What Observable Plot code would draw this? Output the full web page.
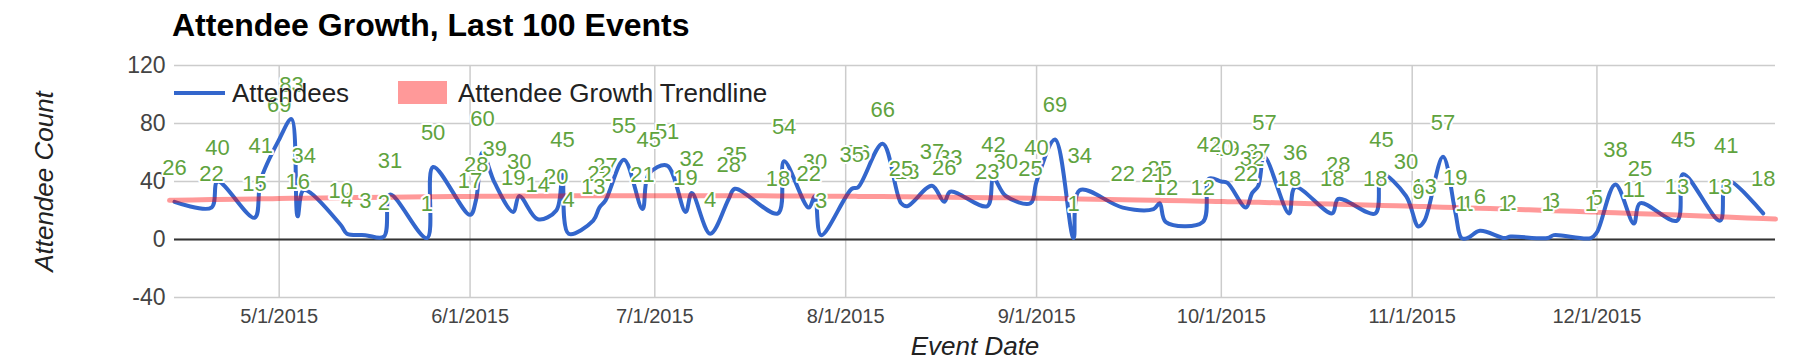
<!DOCTYPE html>
<html>
<head>
<meta charset="utf-8">
<script src="https://cdn.jsdelivr.net/npm/d3@7"></script>
<script src="https://cdn.jsdelivr.net/npm/@observablehq/plot@0.6"></script>
<style>
html, body { margin: 0; padding: 0; background: #fff; }
#wrap { position: relative; width: 1818px; height: 362px; overflow: hidden; font-family: "Liberation Sans", Arial, sans-serif; }
#chart { position: absolute; left: 0; top: 0; }
#title { position: absolute; left: 172px; top: 5px; font-weight: bold; font-size: 32px; line-height: 40px; color: #000; white-space: nowrap; }
.legtext { position: absolute; font-size: 26px; line-height: 28px; color: #222; white-space: nowrap;
  text-shadow: 0 0 2px #fff, 0 0 2px #fff, 0 0 2px #fff; }
.swatch { position: absolute; }
</style>
</head>
<body>
<div id="wrap">
  <div id="chart"></div>
  <div id="title">Attendee Growth, Last 100 Events</div>
  <div class="swatch" style="left:174px; top:91px; width:51px; height:4px; background:#3366cc;"></div>
  <div class="legtext" style="left:232px; top:79px;">Attendees</div>
  <div class="swatch" style="left:398px; top:81px; width:49px; height:23px; background:#ff9999;"></div>
  <div class="legtext" style="left:458px; top:79px;">Attendee Growth Trendline</div>
</div>
<script>
// ---- data ----
const eventDates = [
  "2015-04-14","2015-04-20","2015-04-21","2015-04-27","2015-04-28","2015-05-01","2015-05-03","2015-05-04","2015-05-05","2015-05-11",
  "2015-05-12","2015-05-15","2015-05-18","2015-05-19","2015-05-25","2015-05-26","2015-06-01","2015-06-02","2015-06-03","2015-06-05",
  "2015-06-08","2015-06-09","2015-06-12","2015-06-15","2015-06-16","2015-06-17","2015-06-21","2015-06-22","2015-06-23","2015-06-26",
  "2015-06-29","2015-06-30","2015-07-03","2015-07-06","2015-07-07","2015-07-10","2015-07-13","2015-07-14","2015-07-21","2015-07-22",
  "2015-07-26","2015-07-27","2015-07-28","2015-08-02","2015-08-03","2015-08-07","2015-08-10","2015-08-11","2015-08-15","2015-08-17",
  "2015-08-18","2015-08-24","2015-08-25","2015-08-27","2015-08-31","2015-09-01","2015-09-04","2015-09-07","2015-09-08","2015-09-15",
  "2015-09-20","2015-09-21","2015-09-22","2015-09-28","2015-09-29","2015-10-01","2015-10-02","2015-10-05","2015-10-06","2015-10-07",
  "2015-10-08","2015-10-12","2015-10-13","2015-10-19","2015-10-20","2015-10-26","2015-10-27","2015-10-31","2015-11-02","2015-11-03",
  "2015-11-06","2015-11-08","2015-11-09","2015-11-10","2015-11-12","2015-11-16","2015-11-17","2015-11-23","2015-11-24","2015-11-30",
  "2015-12-01","2015-12-04","2015-12-07","2015-12-08","2015-12-14","2015-12-15","2015-12-21","2015-12-22","2015-12-28"
];
const attendees = [
  26, 22, 40, 15, 41, 69, 83, 16, 34, 10,
  4, 3, 2, 31, 1, 50, 17, 28, 60, 39,
  19, 30, 14, 20, 45, 4, 13, 22, 27, 55,
  21, 45, 51, 19, 32, 4, 28, 35, 18, 54,
  22, 30, 3, 35, 36, 66, 25, 23, 37, 26,
  33, 23, 42, 30, 25, 40, 69, 1, 34, 22,
  21, 25, 12, 12, 42, 40, 39, 22, 32, 37,
  57, 18, 36, 18, 28, 18, 45, 30, 9, 13,
  57, 19, 1, 1, 6, 1, 2, 1, 3, 1,
  5, 38, 11, 25, 13, 45, 13, 41, 18
];
const xDomain = ["2015-04-14", "2015-12-30"];
const monthTicks = ["2015-05-01","2015-06-01","2015-07-01","2015-08-01","2015-09-01","2015-10-01","2015-11-01","2015-12-01"];
const yTicks = [-40, 0, 40, 80, 120];
const yDomain = [-40, 120];

// ---- build ----
const parse = d3.utcParse("%Y-%m-%d");
const data = eventDates.map((d, i) => ({date: parse(d), value: attendees[i]}));
const x0 = parse(xDomain[0]), x1 = parse(xDomain[1]);
const months = monthTicks.map(parse);

// polynomial (degree 2) least-squares trendline computed from the data
const DAY = 864e5;
const S = [0,0,0,0,0], T = [0,0,0];
for (const d of data) {
  const t = (d.date - x0) / DAY;
  for (let k = 0; k < 5; k++) S[k] += t ** k;
  for (let k = 0; k < 3; k++) T[k] += d.value * t ** k;
}
function solve3(A, b) {
  const M = A.map((r, i) => [...r, b[i]]);
  for (let c = 0; c < 3; c++) {
    let p = c;
    for (let r = c + 1; r < 3; r++) if (Math.abs(M[r][c]) > Math.abs(M[p][c])) p = r;
    [M[c], M[p]] = [M[p], M[c]];
    for (let r = 0; r < 3; r++) if (r !== c) {
      const f = M[r][c] / M[c][c];
      for (let k = c; k < 4; k++) M[r][k] -= f * M[c][k];
    }
  }
  return M.map((r, i) => r[3] / r[i]);
}
const coef = solve3([[S[0],S[1],S[2]],[S[1],S[2],S[3]],[S[2],S[3],S[4]]], T);
const trendDates = [x0, ...data.map(d => d.date), x1];
const trend = trendDates.map(date => {
  const t = (date - x0) / DAY;
  return {date, value: coef[0] + coef[1] * t + coef[2] * t * t};
});

// annotations: earlier events are drawn on top, as in the reference
const labelOrder = data.slice().reverse();

const font = '"Liberation Sans", Arial, sans-serif';
const chart = Plot.plot({
  width: 1818,
  height: 362,
  marginLeft: 174,
  marginRight: 43,
  marginTop: 65,
  marginBottom: 65,
  style: {fontFamily: font, fontSize: "20px", color: "#444", background: "transparent", overflow: "visible"},
  x: {type: "utc", domain: [x0, x1]},
  y: {domain: yDomain},
  marks: [
    Plot.gridY(yTicks, {stroke: "#cccccc", strokeOpacity: 1, strokeWidth: 1.5}),
    Plot.gridX(months, {stroke: "#cccccc", strokeOpacity: 1, strokeWidth: 1.5}),
    Plot.ruleY([0], {stroke: "#333333", strokeWidth: 2}),
    Plot.axisY(yTicks, {tickSize: 0, tickPadding: 9, label: null, fontSize: 23, fill: "#444", tickFormat: d => String(d)}),
    Plot.axisX(months, {tickSize: 0, tickPadding: 11, label: null, fontSize: 20, fill: "#444", tickFormat: d3.utcFormat("%-m/%-d/%Y")}),
    Plot.line(data, {x: "date", y: "value", stroke: "#3366cc", strokeWidth: 4, curve: "catmull-rom"}),
    Plot.line(trend, {x: "date", y: "value", stroke: "#ff0000", strokeOpacity: 0.4, strokeWidth: 5, curve: "natural"}),
    Plot.text(labelOrder, {x: "date", y: "value", text: d => String(d.value), dy: -34, fontSize: 22,
      fill: "#5fa33e", stroke: "white", strokeWidth: 4, paintOrder: "stroke"}),
    Plot.text(["Attendee Count"], {frameAnchor: "left", dx: -130, rotate: -90, textAnchor: "middle", lineAnchor: "middle",
      fontStyle: "italic", fontSize: 26, fill: "#222"}),
    Plot.text(["Event Date"], {frameAnchor: "bottom", dy: 49, lineAnchor: "middle", fontStyle: "italic", fontSize: 26, fill: "#222"})
  ]
});
document.getElementById("chart").appendChild(chart);
</script>
</body>
</html>
